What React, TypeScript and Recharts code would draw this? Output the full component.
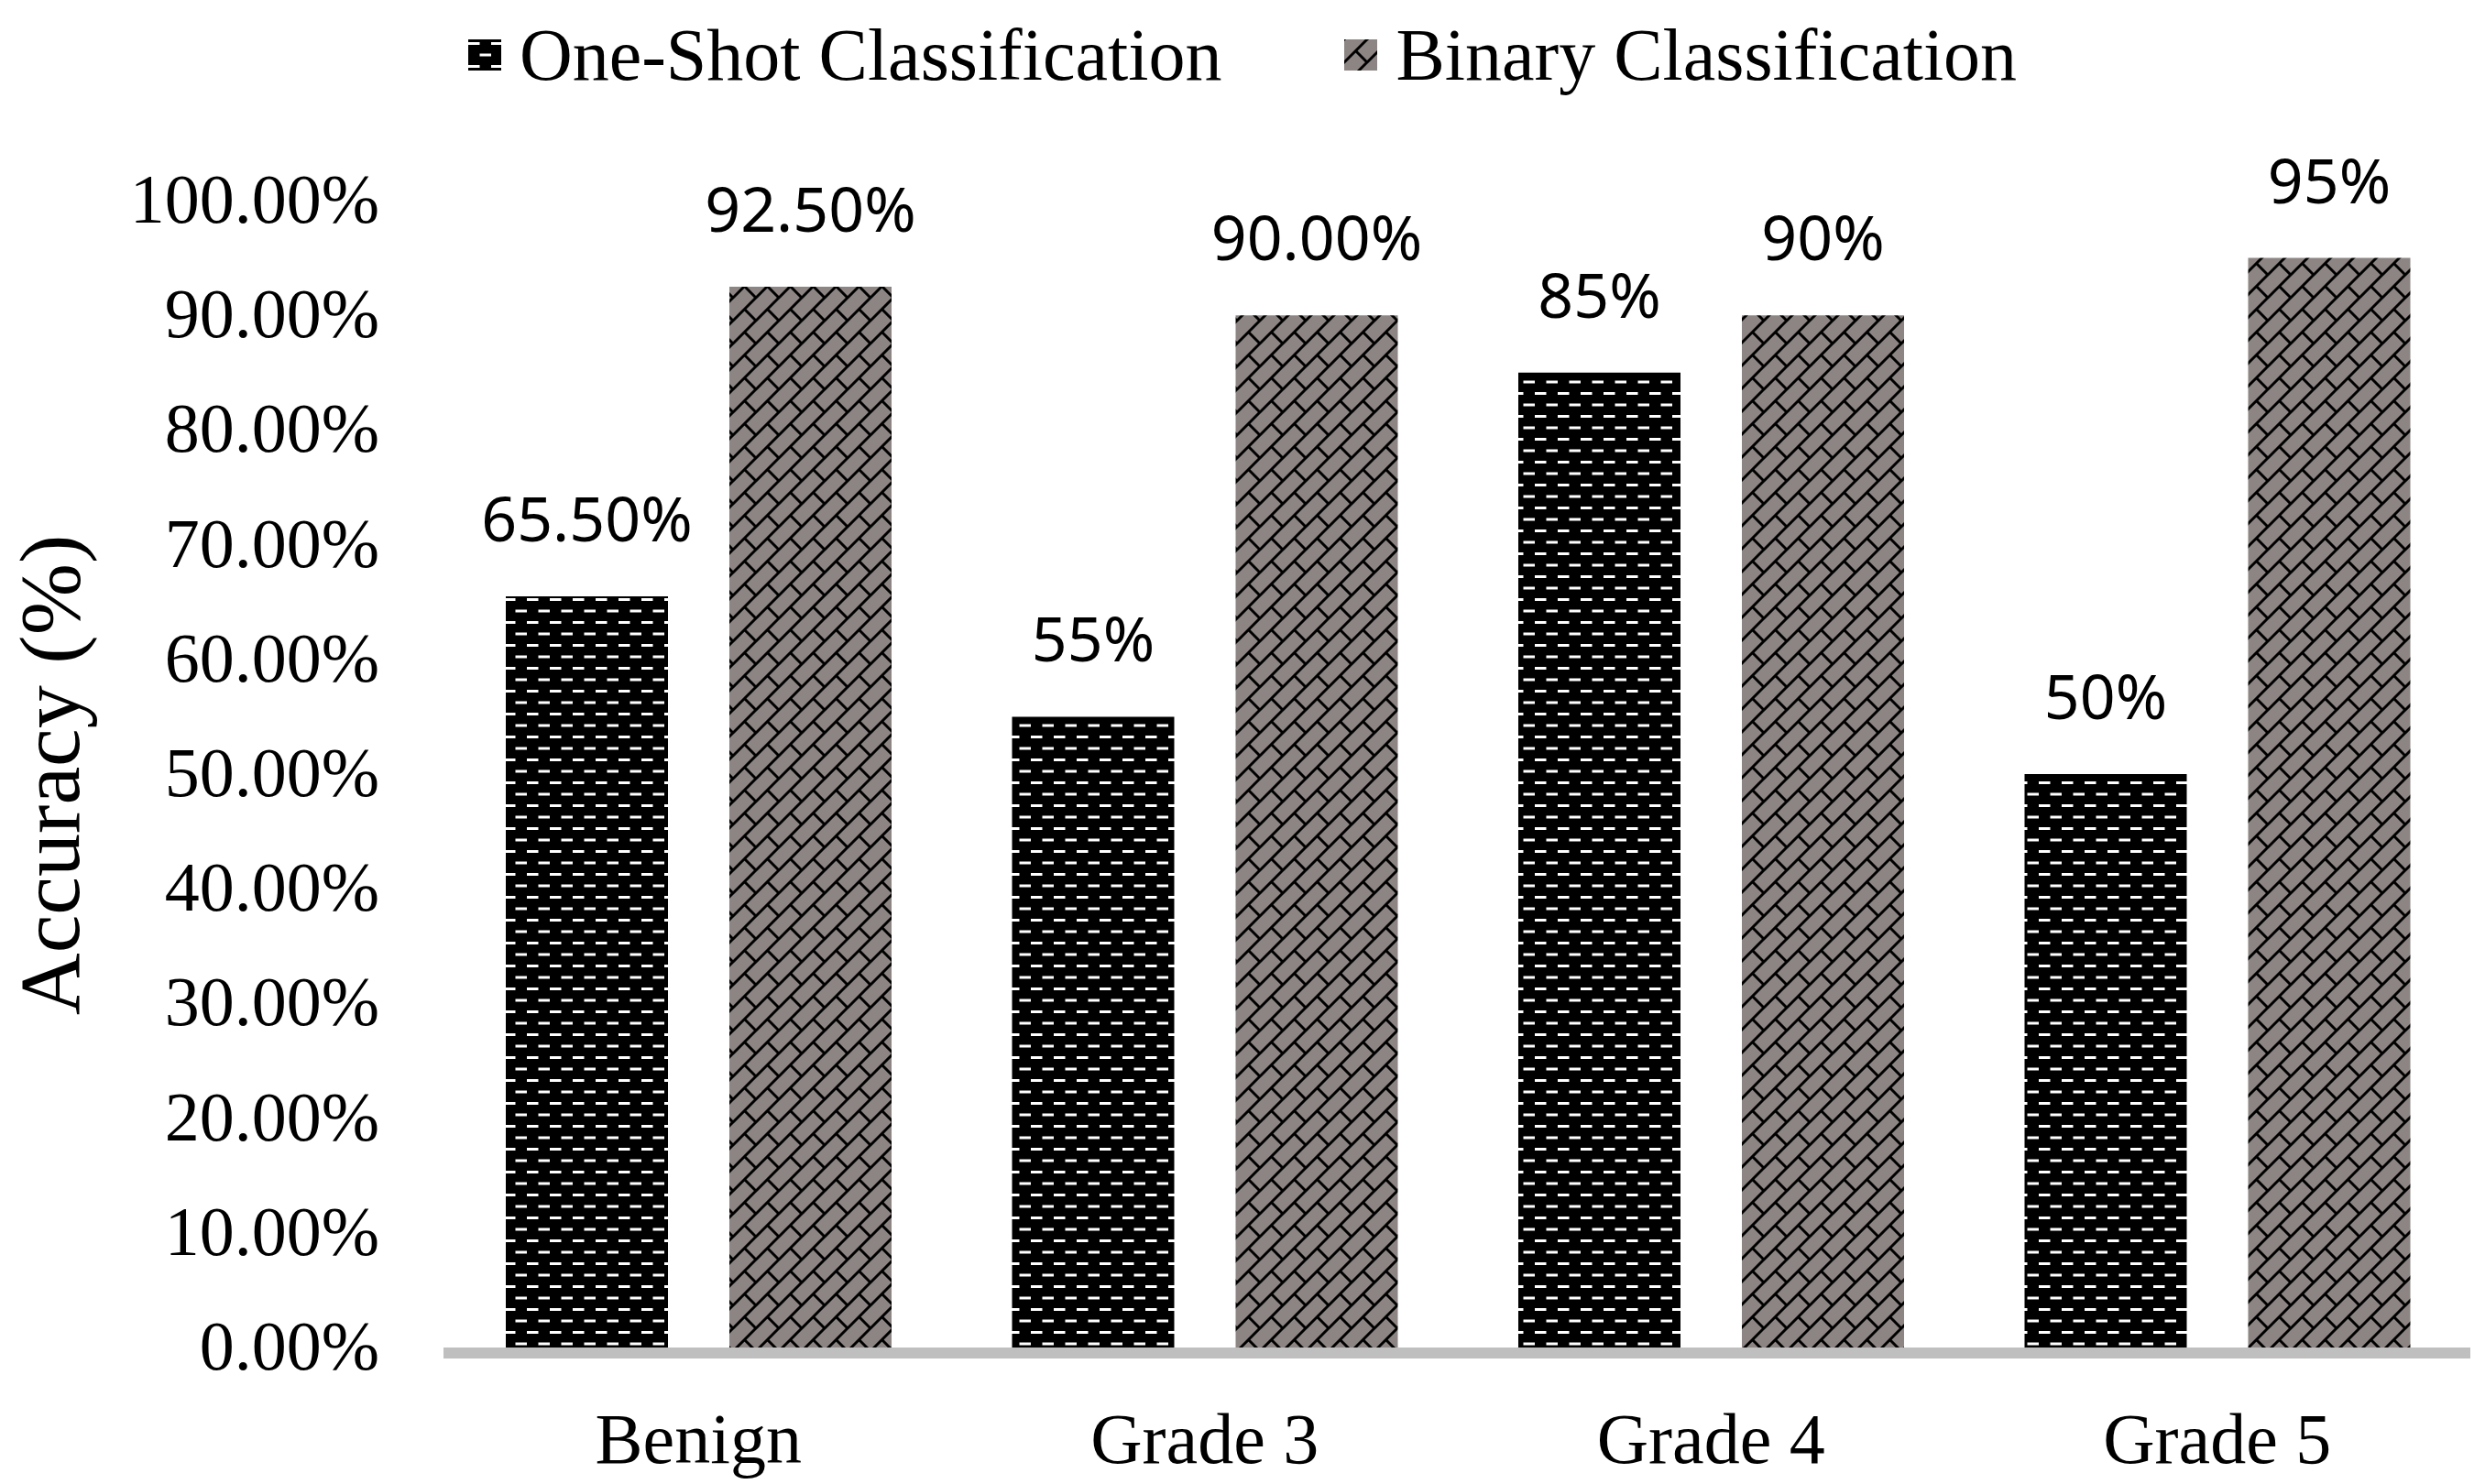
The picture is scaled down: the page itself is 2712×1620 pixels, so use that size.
import { BarChart, Bar, XAxis, YAxis, Legend, LabelList, ReferenceLine } from "recharts"

const categories = ["Benign", "Grade 3", "Grade 4", "Grade 5"]
const oneShot = [65.5, 55, 85, 50]
const binary = [92.5, 90, 90, 95]
const oneShotLabels = ["65.50%", "55%", "85%", "50%"]
const binaryLabels = ["92.50%", "90.00%", "90%", "95%"]
const yTicks = [0, 10, 20, 30, 40, 50, 60, 70, 80, 90, 100]
const seriesNames = ["One-Shot Classification", "Binary Classification"]

const data = categories.map((name, i) => ({
  name,
  oneShot: oneShot[i],
  binary: binary[i],
  oneShotLabel: oneShotLabels[i],
  binaryLabel: binaryLabels[i],
}))

const SERIF = "'Liberation Serif', 'Times New Roman', serif"
const SANS = "'Noto Sans', 'Open Sans', sans-serif"
const GRAY = "#8c8583"

function DashTile({ id }: { id: string }) {
  return (
    <pattern id={id} patternUnits="userSpaceOnUse" width={25} height={25}>
      <rect width={25} height={25} fill="#000" />
      <rect x={0} y={3} width={12.5} height={3} fill="#fff" />
      <rect x={12.5} y={15.5} width={12.5} height={3} fill="#fff" />
    </pattern>
  )
}

function BrickTile({ id }: { id: string }) {
  return (
    <pattern id={id} patternUnits="userSpaceOnUse" width={25} height={25}>
      <rect width={25} height={25} fill={GRAY} />
      <path
        d="M0 25 L25 0 M-5 5 L5 -5 M20 30 L30 20 M12.5 12.5 L25 25"
        stroke="#000"
        strokeWidth={3}
        fill="none"
      />
    </pattern>
  )
}

const renderValueLabel = (props: any) => {
  const { x, y, width, value } = props
  return (
    <text
      x={Number(x) + Number(width) / 2}
      y={Number(y) - 60}
      textAnchor="middle"
      fontFamily={SANS}
      fontSize={68}
      fill="#000"
    >
      {value}
    </text>
  )
}

const renderLegend = () => (
  <div
    style={{
      height: 120,
      display: "flex",
      alignItems: "center",
      justifyContent: "center",
      gap: 134,
      fontFamily: SERIF,
      fontSize: 80,
      color: "#000",
    }}
  >
    {seriesNames.map((name, i) => (
      <div key={name} style={{ display: "flex", alignItems: "center" }}>
        <svg width={36} height={34} style={{ marginRight: 20 }}>
          <defs>{i === 0 ? <DashTile id="legendDash" /> : <BrickTile id="legendBrick" />}</defs>
          <rect width={36} height={34} fill={i === 0 ? "url(#legendDash)" : "url(#legendBrick)"} />
        </svg>
        <span style={{ lineHeight: "120px" }}>{name}</span>
      </div>
    ))}
  </div>
)

// rotated axis title, centred on the plot area
const renderYTitle = () => (
  <text
    x={86}
    y={846}
    transform="rotate(-90 86 846)"
    textAnchor="middle"
    fontFamily={SERIF}
    fontSize={94}
    fill="#000"
  >
    Accuracy (%)
  </text>
)

export default function App() {
  return (
    <div style={{ position: "absolute", left: 0, top: 0, background: "#fff" }}>
      <BarChart
        width={2712}
        height={1620}
        data={data}
        barSize={177}
        barGap={67}
        margin={{ top: 99, right: 16, left: 0, bottom: 9 }}
      >
        <defs>
          <DashTile id="dashFill" />
          <BrickTile id="brickFill" />
        </defs>
        <Legend
          verticalAlign="top"
          content={renderLegend}
          wrapperStyle={{ top: 0, left: 0, width: 2712, height: 120 }}
        />
        <XAxis
          dataKey="name"
          axisLine={false}
          tickLine={false}
          tickSize={0}
          tickMargin={71}
          height={140}
          tick={{ fontFamily: SERIF, fontSize: 78, fill: "#000" }}
        />
        <YAxis
          domain={[0, 100]}
          ticks={yTicks}
          tickFormatter={(v: number) => `${v.toFixed(2)}%`}
          axisLine={false}
          tickLine={false}
          tickSize={0}
          tickMargin={72}
          width={486}
          tick={{ fontFamily: SERIF, fontSize: 76, fill: "#000", dy: -3 }}
          label={renderYTitle}
        />
        <Bar dataKey="oneShot" name={seriesNames[0]} fill="url(#dashFill)" isAnimationActive={false}>
          <LabelList dataKey="oneShotLabel" content={renderValueLabel} />
        </Bar>
        <Bar dataKey="binary" name={seriesNames[1]} fill="url(#brickFill)" isAnimationActive={false}>
          <LabelList dataKey="binaryLabel" content={renderValueLabel} />
        </Bar>
        <ReferenceLine
          y={0}
          shape={(p: any) => (
            <line
              x1={p.x1 - 2}
              x2={p.x2}
              y1={p.y1 + 6}
              y2={p.y2 + 6}
              stroke="#bfbfbf"
              strokeWidth={12}
            />
          )}
        />
      </BarChart>
    </div>
  )
}
